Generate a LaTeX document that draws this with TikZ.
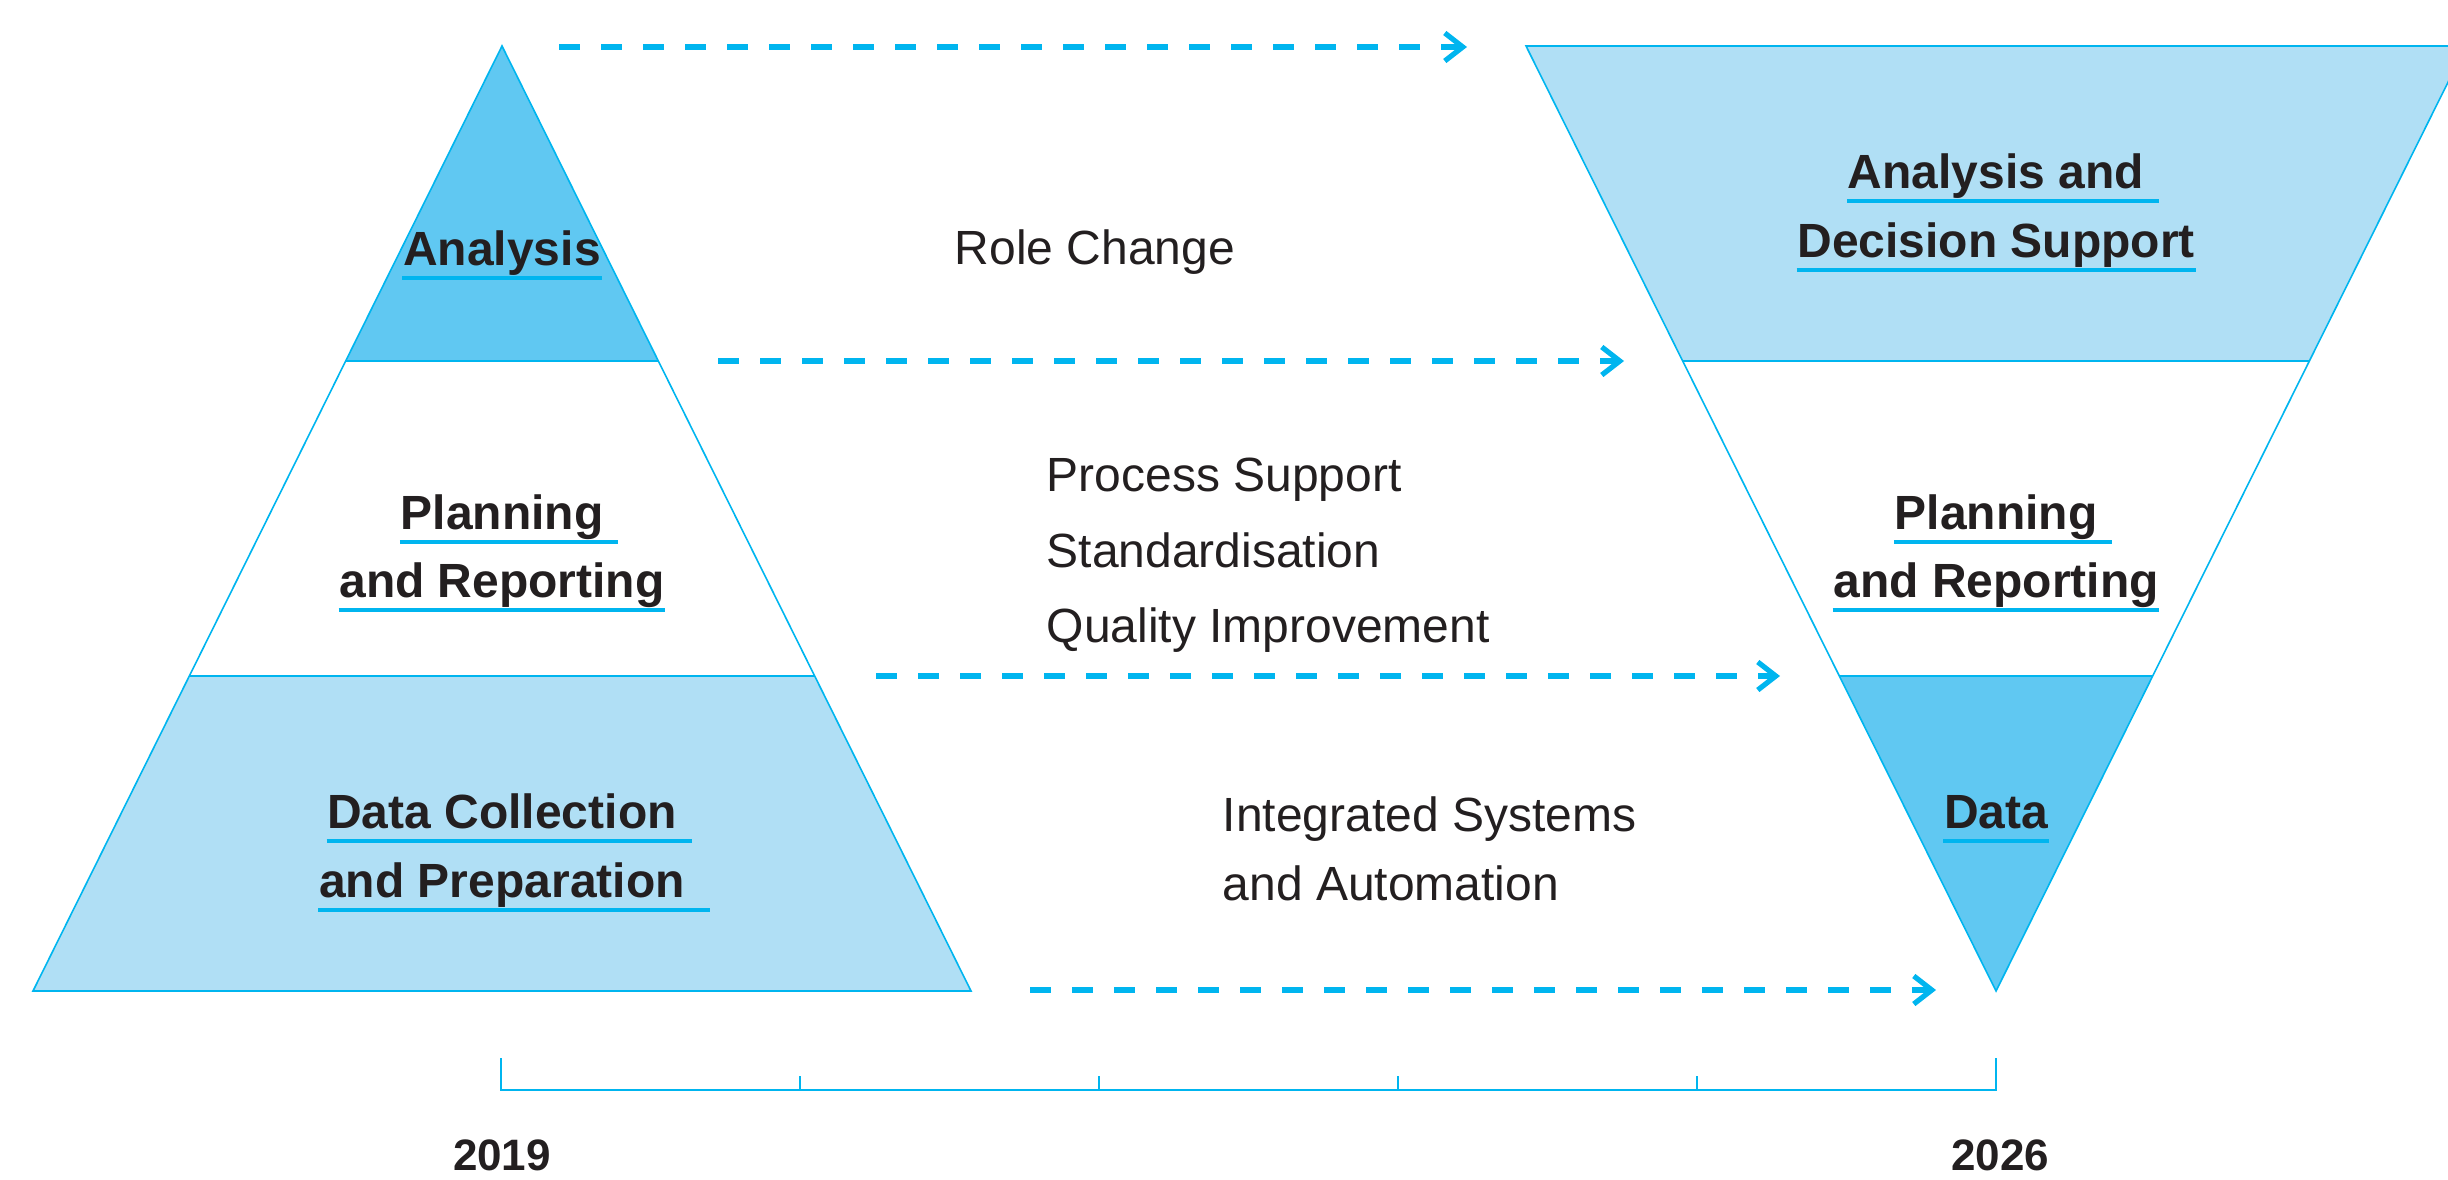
\documentclass[tikz,border=0pt]{standalone}
\usepackage{fontspec}
\setmainfont{Liberation Sans}
\usetikzlibrary{arrows.meta}
\definecolor{cyanline}{RGB}{0,181,239}
\definecolor{darkfill}{RGB}{96,200,242}
\definecolor{lightfill}{RGB}{176,223,245}
\definecolor{ink}{RGB}{35,31,32}
\newcommand\myul[2]{\draw[uline] ([yshift=-3.25pt]#1.base west) -- ([yshift=-3.25pt,xshift=#2]#1.base east);}
\begin{document}
\begin{tikzpicture}[x=0.25pt,y=-0.25pt,
  edge/.style={draw=cyanline,line width=0.4pt,line join=miter},
  band/.style={draw=cyanline,line width=0.6pt},
  flow/.style={draw=cyanline,line width=1.3pt,dash pattern=on 5.25pt off 5.25pt,-{Straight Barb[length=4.5pt,width=7pt,line join=miter]}},
  lbl/.style={anchor=base,inner sep=0pt,font=\fontsize{12pt}{14pt}\selectfont\bfseries,text=ink},
  txt/.style={anchor=base west,inner sep=0pt,font=\fontsize{12pt}{14pt}\selectfont,text=ink},
  uline/.style={draw=cyanline,line width=1pt},
  yr/.style={anchor=base,inner sep=0pt,font=\fontsize{11pt}{13pt}\selectfont\bfseries,text=ink},
  axisline/.style={draw=cyanline,line width=0.4pt}]
\useasboundingbox (0,0) rectangle (2448,1179);
\begin{scope}
\clip (0,0) rectangle (2448,1179);
% left pyramid
\fill[darkfill] (502,46) -- (658.3,361) -- (345.7,361) -- cycle;
\fill[lightfill] (189.3,676) -- (814.7,676) -- (971,991) -- (33,991) -- cycle;
\draw[edge] (502,46) -- (971,991) -- (33,991) -- cycle;
\draw[band] (33,991) -- (971,991);
\draw[band] (345.7,361) -- (658.3,361);
\draw[band] (189.3,676) -- (814.7,676);
% right inverted pyramid
\fill[lightfill] (1526,46) -- (2466,46) -- (2308.7,361) -- (1683.3,361) -- cycle;
\fill[darkfill] (1839.7,676) -- (2152.3,676) -- (1996,991) -- cycle;
\draw[edge] (1526,46) -- (2466,46) -- (1996,991) -- cycle;
\draw[band] (1526,46) -- (2466,46);
\draw[band] (1683.3,361) -- (2308.7,361);
\draw[band] (1839.7,676) -- (2152.3,676);
\end{scope}
% left labels
\node[lbl] (la) at (502,265) {Analysis};
\node[lbl] (lp1) at (502,529) {Planning};
\node[lbl] (lp2) at (502,597) {and Reporting};
\node[lbl] (ld1) at (502,828) {Data Collection};
\node[lbl] (ld2) at (502,897) {and Preparation};
\myul{la}{0pt}
\myul{lp1}{3.5pt}
\myul{lp2}{0pt}
\myul{ld1}{3.5pt}
\myul{ld2}{6pt}
% right labels
\node[lbl] (ra1) at (1996,188) {Analysis and};
\node[lbl] (ra2) at (1996,257) {Decision Support};
\node[lbl] (rp1) at (1996,529) {Planning};
\node[lbl] (rp2) at (1996,597) {and Reporting};
\node[lbl] (rd) at (1996,828) {Data};
\myul{ra1}{3.5pt}
\myul{ra2}{0pt}
\myul{rp1}{3.5pt}
\myul{rp2}{0pt}
\myul{rd}{0pt}
% middle texts
\node[txt] (t1) at (954,264) {Role Change};
\node[txt] (t2) at (1046,491) {Process Support};
\node[txt] (t3) at (1046,567) {Standardisation};
\node[txt] (t4) at (1046,642) {Quality Improvement};
\node[txt] (t5) at (1222,831) {Integrated Systems};
\node[txt] (t6) at (1222,900) {and Automation};
% arrows
\coordinate (a1s) at (559,47);  \coordinate (a1e) at (1467,47);
\coordinate (a2s) at (718,361); \coordinate (a2e) at (1624,361);
\coordinate (a3s) at (876,676); \coordinate (a3e) at (1780,676);
\coordinate (a4s) at (1030,990);\coordinate (a4e) at (1936,990);
\draw[flow] (a1s) -- (a1e);
\draw[flow] (a2s) -- (a2e);
\draw[flow] (a3s) -- (a3e);
\draw[flow] (a4s) -- (a4e);
% timeline
\coordinate (tl) at (501,1090);
\coordinate (tr) at (1996,1090);
\draw[axisline] (501,1058) -- (tl) -- (tr) -- (1996,1058);
\foreach \x in {800,1099,1398,1697} \draw[axisline] (\x,1090) -- (\x,1076);
\node[yr] (y1) at (502,1170) {2019};
\node[yr] (y2) at (2000,1170) {2026};
\end{tikzpicture}
\end{document}
